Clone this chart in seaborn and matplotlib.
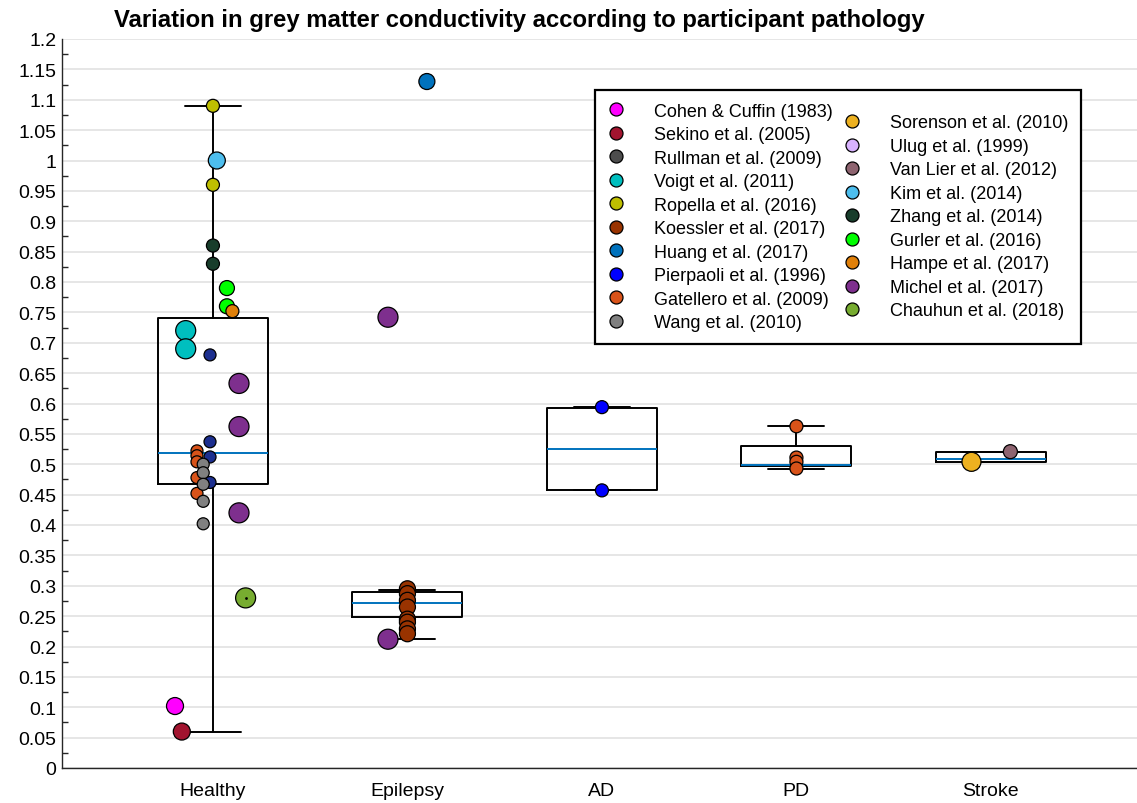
import numpy as np
import pandas as pd
import matplotlib
matplotlib.use("Agg")
import matplotlib.pyplot as plt
import seaborn as sns
from matplotlib.lines import Line2D
from matplotlib.ticker import MultipleLocator, FuncFormatter

# ---------------- data ----------------
categories = ["Healthy", "Epilepsy", "AD", "PD", "Stroke"]

legend_studies = [
    "Cohen & Cuffin (1983)", "Sekino et al. (2005)", "Rullman et al. (2009)",
    "Voigt et al. (2011)", "Ropella et al. (2016)", "Koessler et al. (2017)",
    "Huang et al. (2017)", "Pierpaoli et al. (1996)", "Gatellero et al. (2009)",
    "Wang et al. (2010)", "Sorenson et al. (2010)", "Ulug et al. (1999)",
    "Van Lier et al. (2012)", "Kim et al. (2014)", "Zhang et al. (2014)",
    "Gurler et al. (2016)", "Hampe et al. (2017)", "Michel et al. (2017)",
    "Chauhun et al. (2018)",
]
study_colors = [
    "#FF00FF", "#A2142F", "#4D4D4D", "#00BFBF", "#BFBF00", "#993300",
    "#0072BD", "#0000FF", "#D95319", "#808080", "#EDB120", "#D9B3FF",
    "#8E6470", "#4DBEEE", "#183D2B", "#00FF00", "#E0800A", "#7E2F8E",
    "#77AC30",
]
UNLISTED = "Unlisted"
unlisted_color = "#1C2F8F"

healthy_studies = (
    ["Cohen & Cuffin (1983)"] + ["Sekino et al. (2005)"]
    + ["Ropella et al. (2016)"] * 2 + ["Kim et al. (2014)"]
    + ["Zhang et al. (2014)"] * 2 + ["Gurler et al. (2016)"] * 2
    + ["Hampe et al. (2017)"] + ["Voigt et al. (2011)"] * 2
    + [UNLISTED] * 4 + ["Gatellero et al. (2009)"] * 5
    + ["Wang et al. (2010)"] * 5 + ["Michel et al. (2017)"] * 3
    + ["Chauhun et al. (2018)"]
)
healthy_values = [
    0.102, 0.06,
    1.09, 0.96, 1.0,
    0.86, 0.83, 0.79, 0.76,
    0.752, 0.72, 0.69,
    0.68, 0.537, 0.512, 0.47,
    0.522, 0.514, 0.504, 0.478, 0.452,
    0.500, 0.486, 0.467, 0.439, 0.402,
    0.633, 0.562, 0.42,
    0.28,
]
epilepsy_studies = (["Huang et al. (2017)"] + ["Michel et al. (2017)"] * 2
                    + ["Koessler et al. (2017)"] * 8)
epilepsy_values = [1.13, 0.742, 0.212,
                   0.295, 0.287, 0.276, 0.265, 0.245, 0.240, 0.229, 0.221]
ad_studies = ["Pierpaoli et al. (1996)"] * 2
ad_values = [0.594, 0.457]
pd_studies = ["Gatellero et al. (2009)"] * 4
pd_values = [0.5625, 0.511, 0.504, 0.493]
stroke_studies = ["Sorenson et al. (2010)", "Van Lier et al. (2012)"]
stroke_values = [0.504, 0.5207]

# box statistics
box_whislo = [0.06, 0.2123, 0.457, 0.493, 0.503]
box_q1 = [0.4675, 0.248, 0.458, 0.4966, 0.503]
box_med = [0.5177, 0.271, 0.5251, 0.498, 0.5086]
box_q3 = [0.7407, 0.290, 0.5926, 0.5295, 0.5207]
box_whishi = [1.09, 0.293, 0.594, 0.5625, 0.5207]

# ---------------- styles ----------------
# horizontal jitter (fraction of category spacing) and marker diameter (px)
jitter = {
    ("Healthy", "Cohen & Cuffin (1983)"): -0.195,
    ("Healthy", "Sekino et al. (2005)"): -0.16,
    ("Healthy", "Ropella et al. (2016)"): 0.0,
    ("Healthy", "Kim et al. (2014)"): 0.02,
    ("Healthy", "Zhang et al. (2014)"): 0.0,
    ("Healthy", "Gurler et al. (2016)"): 0.072,
    ("Healthy", "Hampe et al. (2017)"): 0.10,
    ("Healthy", "Voigt et al. (2011)"): -0.14,
    ("Healthy", UNLISTED): -0.015,
    ("Healthy", "Gatellero et al. (2009)"): -0.082,
    ("Healthy", "Wang et al. (2010)"): -0.05,
    ("Healthy", "Michel et al. (2017)"): 0.134,
    ("Healthy", "Chauhun et al. (2018)"): 0.168,
    ("Epilepsy", "Huang et al. (2017)"): 0.10,
    ("Epilepsy", "Michel et al. (2017)"): -0.10,
    ("Epilepsy", "Koessler et al. (2017)"): 0.0,
    ("AD", "Pierpaoli et al. (1996)"): 0.0,
    ("PD", "Gatellero et al. (2009)"): 0.0,
    ("Stroke", "Sorenson et al. (2010)"): -0.10,
    ("Stroke", "Van Lier et al. (2012)"): 0.10,
}
marker_px = {
    ("Healthy", "Cohen & Cuffin (1983)"): 17,
    ("Healthy", "Sekino et al. (2005)"): 17,
    ("Healthy", "Ropella et al. (2016)"): 13,
    ("Healthy", "Kim et al. (2014)"): 17,
    ("Healthy", "Zhang et al. (2014)"): 13,
    ("Healthy", "Gurler et al. (2016)"): 15,
    ("Healthy", "Hampe et al. (2017)"): 13,
    ("Healthy", "Voigt et al. (2011)"): 20,
    ("Healthy", UNLISTED): 12,
    ("Healthy", "Gatellero et al. (2009)"): 12,
    ("Healthy", "Wang et al. (2010)"): 12,
    ("Healthy", "Michel et al. (2017)"): 20,
    ("Healthy", "Chauhun et al. (2018)"): 20,
    ("Epilepsy", "Huang et al. (2017)"): 16,
    ("Epilepsy", "Michel et al. (2017)"): 20,
    ("Epilepsy", "Koessler et al. (2017)"): 16,
    ("AD", "Pierpaoli et al. (1996)"): 13,
    ("PD", "Gatellero et al. (2009)"): 13,
    ("Stroke", "Sorenson et al. (2010)"): 19,
    ("Stroke", "Van Lier et al. (2012)"): 14,
}

palette = dict(zip(legend_studies, study_colors))
palette[UNLISTED] = unlisted_color

groups = [
    ("Healthy", healthy_studies, healthy_values),
    ("Epilepsy", epilepsy_studies, epilepsy_values),
    ("AD", ad_studies, ad_values),
    ("PD", pd_studies, pd_values),
    ("Stroke", stroke_studies, stroke_values),
]
frames = []
for cat, studies, vals in groups:
    frames.append(pd.DataFrame({"category": cat, "study": studies, "value": vals}))
df = pd.concat(frames, ignore_index=True)
df["xpos"] = [categories.index(c) + jitter[(c, s)] for c, s in zip(df["category"], df["study"])]
df["size"] = [(marker_px[(c, s)] * 0.72) ** 2 for c, s in zip(df["category"], df["study"])]

# ---------------- figure ----------------
sns.set_theme(style="white")
plt.rcParams["font.family"] = ["Liberation Sans", "DejaVu Sans"]
plt.rcParams["text.color"] = "black"

W, H = 1137, 804
fig = plt.figure(figsize=(W / 100, H / 100), dpi=100)
ax = fig.add_axes([62 / W, 35 / H, (W - 62) / W, 729 / H])

stats = []
for i in range(len(categories)):
    stats.append(dict(whislo=box_whislo[i], q1=box_q1[i], med=box_med[i],
                      q3=box_q3[i], whishi=box_whishi[i], fliers=[]))
ax.bxp(stats, positions=range(len(categories)), widths=0.566, capwidths=0.288,
       showfliers=False, patch_artist=False, manage_ticks=False,
       boxprops=dict(color="black", lw=1.4),
       whiskerprops=dict(color="black", lw=1.4, linestyle="-"),
       capprops=dict(color="black", lw=1.4),
       medianprops=dict(color="#0072BD", lw=1.4))

sns.scatterplot(data=df, x="xpos", y="value", hue="study", palette=palette,
                s=df["size"].values, edgecolor="black", linewidth=0.9,
                legend=False, ax=ax, zorder=3)
chau = df[df["study"] == "Chauhun et al. (2018)"]
sns.scatterplot(data=chau, x="xpos", y="value", color="black", s=4,
                linewidth=0, legend=False, ax=ax, zorder=4)

ax.set_xlim(-0.776, 4.751)
ax.set_ylim(0, 1.2)
ax.set_xticks(range(len(categories)))
ax.set_xticklabels(categories)
ax.yaxis.set_major_locator(MultipleLocator(0.05))
ax.yaxis.set_minor_locator(MultipleLocator(0.025))
ax.yaxis.set_major_formatter(FuncFormatter(lambda v, _: f"{round(v, 3):g}"))
ax.set_xlabel("")
ax.set_ylabel("")

ax.tick_params(axis="both", which="major", direction="in", length=8, width=1,
               color="#262626", labelsize=14, labelcolor="black")
ax.tick_params(axis="y", which="minor", direction="in", length=4.5, width=1,
               color="#262626", left=True)
ax.tick_params(axis="x", which="major", pad=10)
ax.tick_params(axis="y", which="major", pad=4)

ax.yaxis.grid(True, which="major", color="#E2E2E2", lw=1.2)
ax.xaxis.grid(False)
ax.set_axisbelow(True)
for side in ["top", "right"]:
    ax.spines[side].set_visible(False)
for side in ["left", "bottom"]:
    ax.spines[side].set_color("#262626")
    ax.spines[side].set_linewidth(1)

handles = [Line2D([0], [0], marker="o", linestyle="none", markersize=13 * 0.72,
                  markerfacecolor=c, markeredgecolor="black", markeredgewidth=0.9)
           for c in study_colors]
leg = ax.legend(handles, legend_studies, ncol=2, loc="upper right",
                bbox_to_anchor=((1081 - 62) / (W - 62), 1 - (91 - 40) / 729),
                fontsize=13, frameon=True, fancybox=False, framealpha=1,
                edgecolor="black", borderpad=0.7, handlelength=1.0,
                handletextpad=1.6, columnspacing=0.55, labelspacing=0.36,
                borderaxespad=0)
leg.get_frame().set_linewidth(1.6)
for t in leg.get_texts():
    t.set_color("black")
leg._legend_handle_box.align = "center"

fig.text(519 / W, 1 - 20 / H,
         "Variation in grey matter conductivity according to participant pathology",
         ha="center", va="center", fontsize=17.2, fontweight="bold", color="black")

fig.savefig("out.png", dpi=100)
